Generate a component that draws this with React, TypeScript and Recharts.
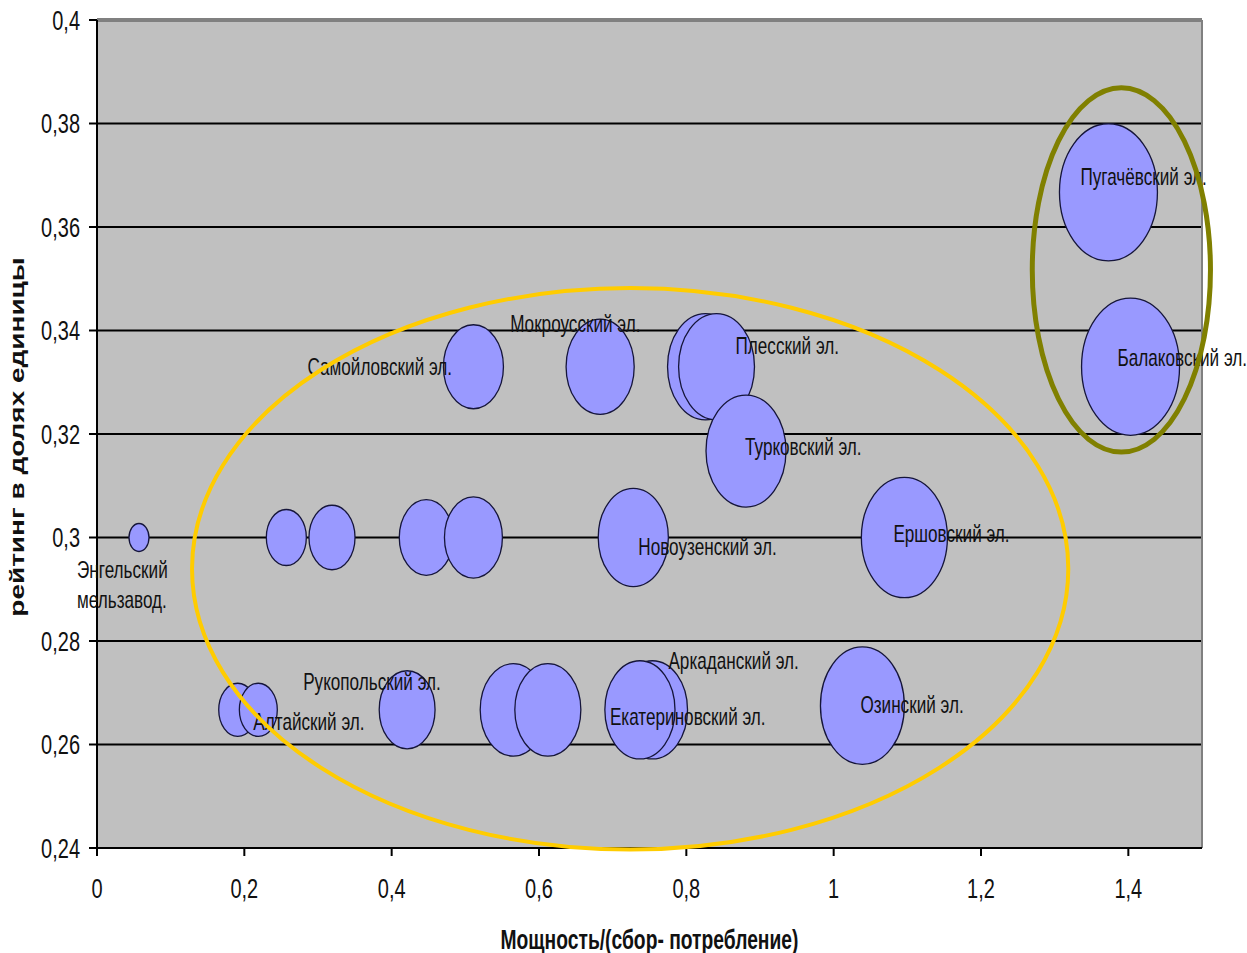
import {
  ScatterChart,
  Scatter,
  XAxis,
  YAxis,
  ZAxis,
  CartesianGrid,
  ReferenceArea,
  ReferenceLine,
} from "recharts";

// elevators: name, power ratio (x), rating (y), relative volume (bubble area)
const names = [
  "Энгельский\nмельзавод.",
  "",
  "",
  "",
  "",
  "Новоузенский эл.",
  "Ершовский эл.",
  "Самойловский эл.",
  "Мокроусский эл.",
  "",
  "Плесский эл.",
  "Турковский эл.",
  "Пугачёвский эл.",
  "Балаковский эл.",
  "",
  "Алтайский эл.",
  "Рукопольский эл.",
  "",
  "",
  "Аркаданский эл.",
  "Екатериновский эл.",
  "Озинский эл.",
];
const power = [
  0.057, 0.257, 0.319, 0.447, 0.511, 0.728, 1.096, 0.511, 0.683, 0.826, 0.841,
  0.881, 1.373, 1.403, 0.191, 0.219, 0.421, 0.565, 0.612, 0.754, 0.737, 1.039,
];
const rating = [
  0.3, 0.3, 0.3, 0.3, 0.3, 0.3, 0.3, 0.333, 0.333, 0.333, 0.333, 0.3167, 0.3667,
  0.333, 0.2667, 0.2667, 0.2667, 0.2667, 0.2667, 0.2667, 0.2667, 0.2675,
];
const volume = [
  1.0, 4.0, 5.3, 7.3, 8.4, 12.3, 18.5, 9.0, 11.6, 14.4, 14.4, 16.0, 24.0, 24.0,
  3.6, 3.6, 7.8, 10.9, 10.9, 12.3, 12.3, 17.6,
];

const xTicks = [0, 0.2, 0.4, 0.6, 0.8, 1, 1.2, 1.4];
const yTicks = [0.24, 0.26, 0.28, 0.3, 0.32, 0.34, 0.36, 0.38, 0.4];
const gridValues = [0.26, 0.28, 0.3, 0.32, 0.34, 0.36, 0.38];

// the two highlighted groups, in data units
const mainGroup = { x1: 0.129, x2: 1.3185, y1: 0.2397, y2: 0.3482 };
const leaderGroup = { x1: 1.2696, x2: 1.5115, y1: 0.3165, y2: 0.3869 };

// where each label sits relative to its bubble centre (px)
const labelOffset: Record<string, [number, number]> = {
  "Энгельский\nмельзавод.": [-62, 32],
  "Новоузенский эл.": [5, 9],
  "Ершовский эл.": [-11, -4],
  "Самойловский эл.": [-166, 0],
  "Мокроусский эл.": [-90, -43],
  "Плесский эл.": [19, -21],
  "Турковский эл.": [-1, -5],
  "Пугачёвский эл.": [-28, -16],
  "Балаковский эл.": [-13, -9],
  "Алтайский эл.": [-5, 12],
  "Рукопольский эл.": [-104, -28],
  "Аркаданский эл.": [16, -49],
  "Екатериновский эл.": [-30, 7],
  "Озинский эл.": [-2, -1],
};

const points = names.map((name, i) => ({
  name,
  x: power[i],
  y: rating[i],
  z: volume[i],
}));

const SQUASH = 0.714;
const STRETCH = 1.4;
const FONT = '"Liberation Sans", Arial, sans-serif';

const fmt = (v: number) => String(v).replace(".", ",");

function Squashed({ x, y, anchor = "start", size, bold = false, children }: any) {
  return (
    <text
      transform={`translate(${x},${y}) scale(${SQUASH},1)`}
      textAnchor={anchor}
      dominantBaseline="central"
      fontFamily={FONT}
      fontSize={size}
      fontWeight={bold ? "bold" : "normal"}
      fill="#111"
    >
      {children}
    </text>
  );
}

function XTick(props: any) {
  return (
    <Squashed x={props.x} y={props.y} anchor="middle" size={28}>
      {fmt(props.payload.value)}
    </Squashed>
  );
}

function YTick(props: any) {
  return (
    <Squashed x={props.x} y={props.y} anchor="end" size={28}>
      {fmt(props.payload.value)}
    </Squashed>
  );
}

function Bubble(props: any) {
  const { cx, cy } = props;
  const r = props.width ? props.width / 2 : Math.sqrt((props.size ?? 64) / Math.PI);
  return (
    <ellipse
      cx={cx}
      cy={cy}
      rx={r}
      ry={r * STRETCH}
      fill="#9999FF"
      stroke="#15153a"
      strokeWidth={1.3}
    />
  );
}

function PlantLabel(props: any) {
  const name: string = props.payload?.name ?? "";
  if (!name) return <g />;
  const [dx, dy] = labelOffset[name] ?? [0, 0];
  return (
    <g>
      {name.split("\n").map((line, k) => (
        <Squashed key={k} x={props.cx + dx} y={props.cy + dy + k * 30} size={24}>
          {line}
        </Squashed>
      ))}
    </g>
  );
}

function Ring({ x, y, width, height, color, w }: any) {
  return (
    <ellipse
      cx={x + width / 2}
      cy={y + height / 2}
      rx={width / 2}
      ry={height / 2}
      fill="none"
      stroke={color}
      strokeWidth={w}
    />
  );
}

export default function App() {
  return (
    // pinned to the window corner so the chart covers the whole page
    <div style={{ position: "absolute", left: 0, top: 0 }}>
      <style>{"svg.recharts-surface { overflow: visible; }"}</style>
      <ScatterChart
        width={1247}
        height={953}
        margin={{ top: 20, right: 45, bottom: 0, left: 0 }}
      >
        <CartesianGrid
          vertical={false}
          horizontalValues={gridValues}
          stroke="#000"
          strokeWidth={2}
          fill="#C0C0C0"
        />
        <XAxis
          type="number"
          dataKey="x"
          domain={[0, 1.5]}
          ticks={xTicks}
          interval={0}
          height={105}
          tickSize={8}
          tickMargin={32}
          tick={<XTick />}
          tickLine={{ stroke: "#000", strokeWidth: 2 }}
          axisLine={{ stroke: "#000", strokeWidth: 2 }}
          label={{
            content: (p: any) => (
              <Squashed
                x={p.viewBox.x + p.viewBox.width / 2}
                y={p.viewBox.y + 92}
                anchor="middle"
                size={27}
                bold
              >
                Мощность/(сбор- потребление)
              </Squashed>
            ),
          }}
        />
        <YAxis
          type="number"
          dataKey="y"
          domain={[0.24, 0.4]}
          ticks={yTicks}
          interval={0}
          width={97}
          tickSize={8}
          tickMargin={9}
          tick={<YTick />}
          tickLine={{ stroke: "#000", strokeWidth: 2 }}
          axisLine={{ stroke: "#000", strokeWidth: 2 }}
          label={{
            content: (p: any) => (
              <text
                transform={`translate(17,${p.viewBox.y + p.viewBox.height / 2 + 3}) rotate(-90) scale(1,${SQUASH})`}
                textAnchor="middle"
                dominantBaseline="central"
                fontFamily={FONT}
                fontSize={28}
                fontWeight="bold"
                fill="#111"
              >
                рейтинг в долях единицы
              </text>
            ),
          }}
        />
        <ZAxis type="number" dataKey="z" domain={[0, 25]} range={[0, Math.PI * 2500]} />
        <ReferenceLine y={0.4} stroke="#808080" strokeWidth={4} />
        <ReferenceLine x={1.5} stroke="#808080" strokeWidth={2} />
        <Scatter
          data={points}
          shape={(p: any) => <Bubble {...p} />}
          isAnimationActive={false}
        />
        <Scatter
          data={points}
          shape={(p: any) => <PlantLabel {...p} />}
          isAnimationActive={false}
        />
        <ReferenceArea
          {...mainGroup}
          ifOverflow="visible"
          zIndex={2500}
          shape={(p: any) => <Ring {...p} color="#FFCC00" w={4} />}
        />
        <ReferenceArea
          {...leaderGroup}
          ifOverflow="visible"
          zIndex={2500}
          shape={(p: any) => <Ring {...p} color="#808000" w={5} />}
        />
      </ScatterChart>
    </div>
  );
}
